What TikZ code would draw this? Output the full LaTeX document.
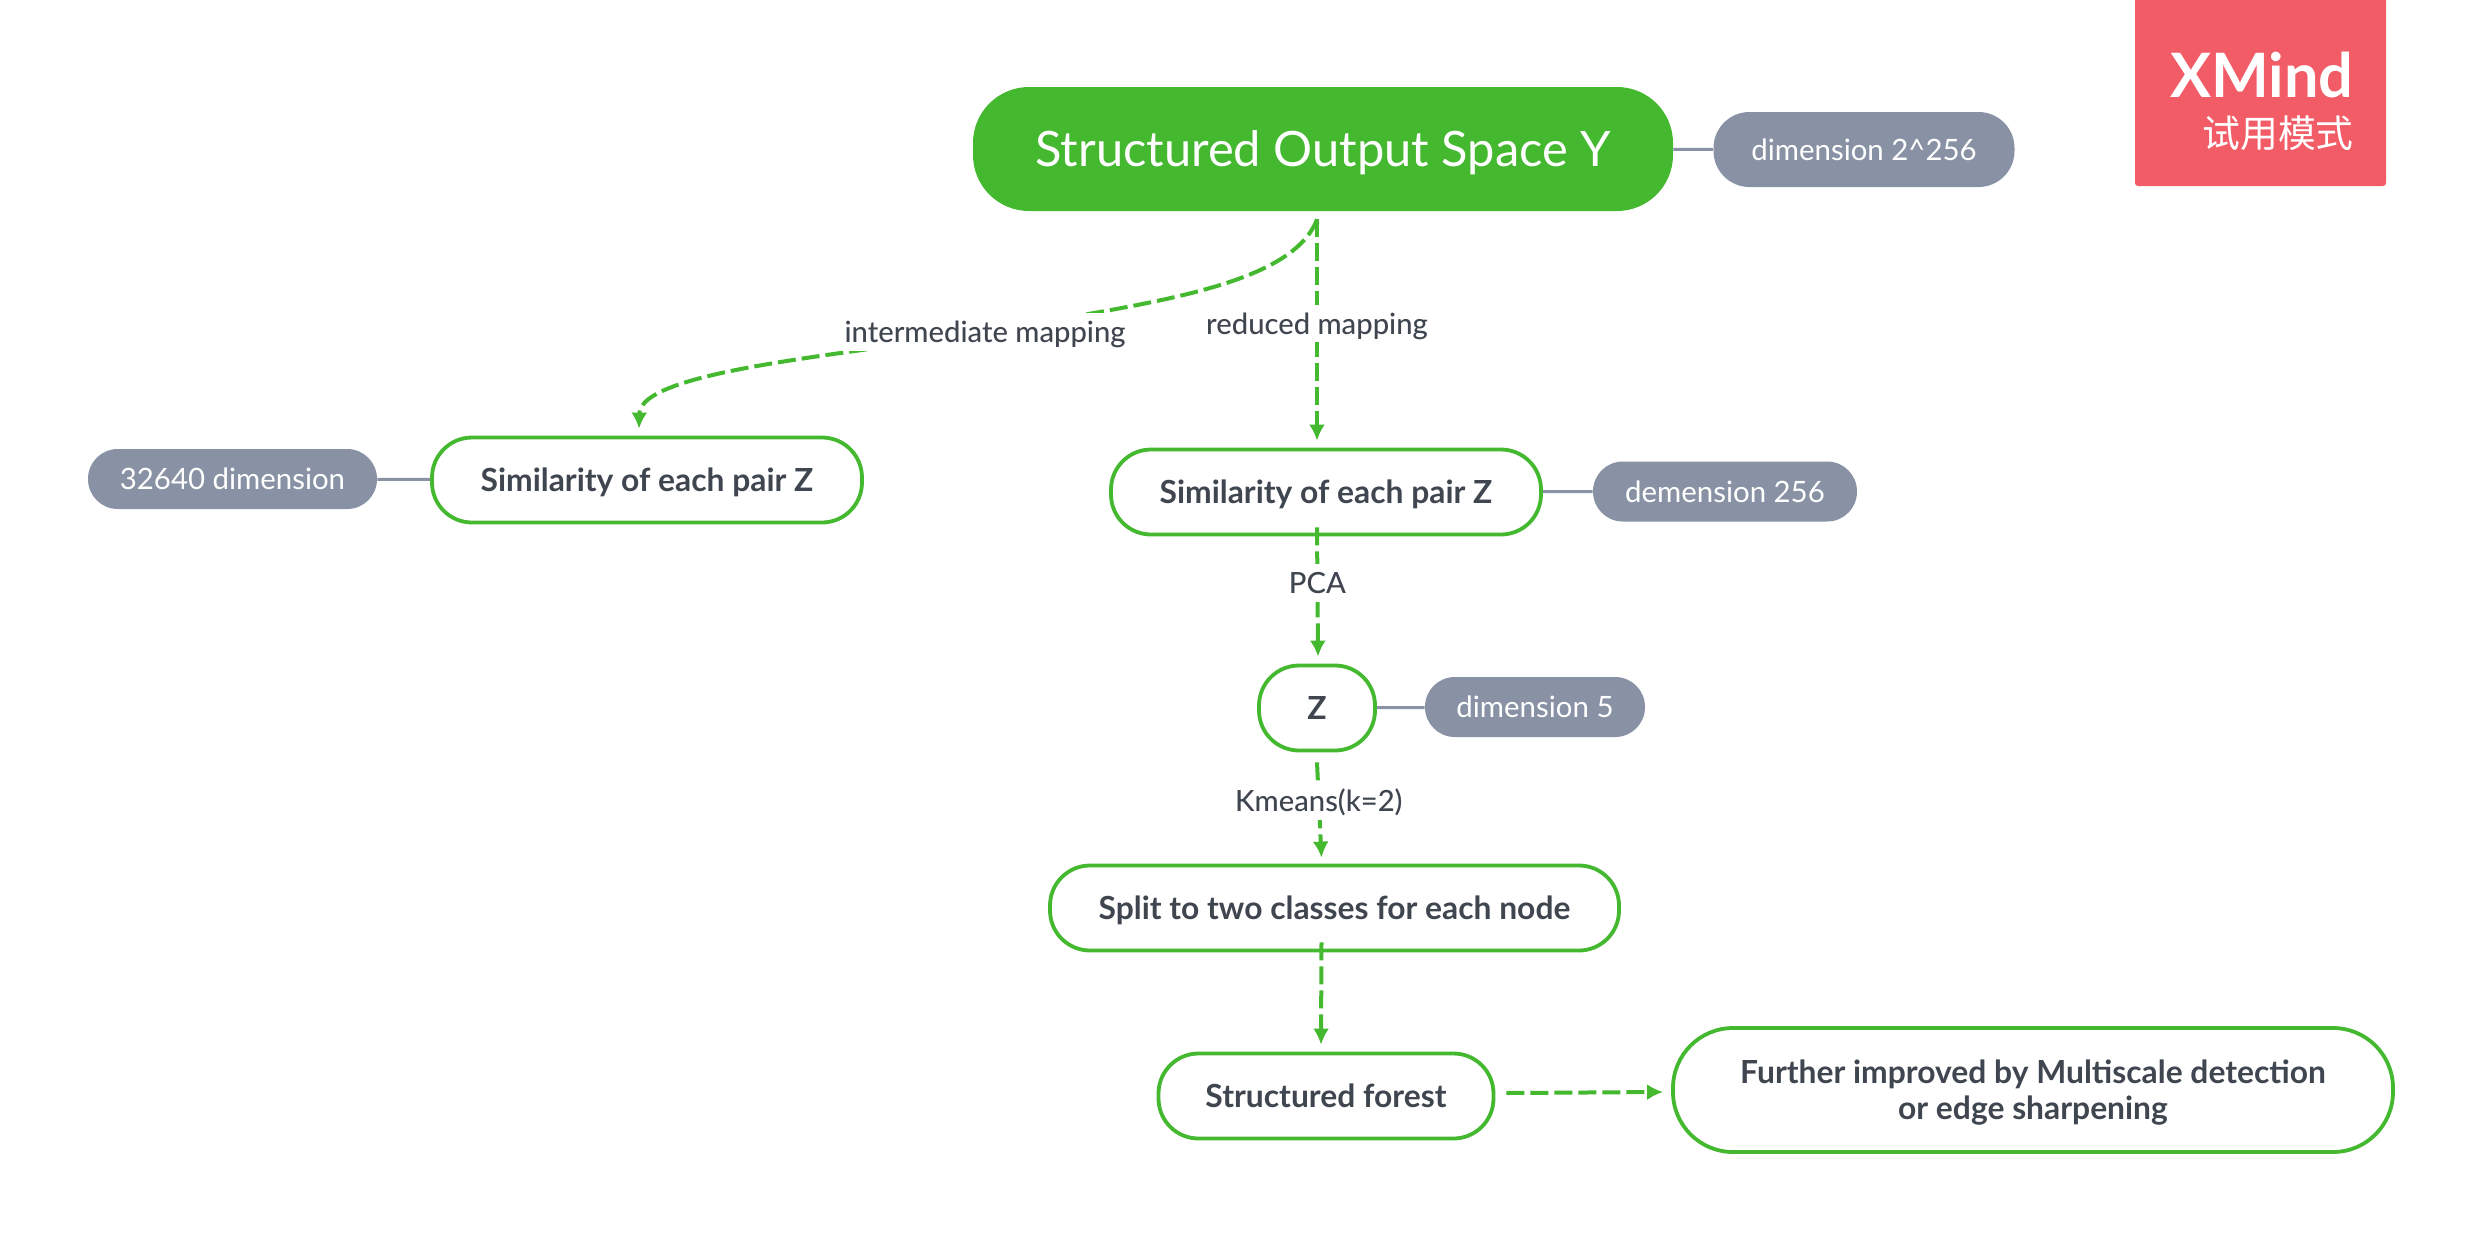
\documentclass[tikz,border=0pt]{standalone}
\usepackage{fontspec}
\setmainfont{Lato}
\newfontfamily\cjk{Noto Sans CJK SC}
\newfontfamily\medio{Lato Medium}
\usetikzlibrary{arrows.meta}
\definecolor{verde}{HTML}{44B82F}
\definecolor{grigio}{HTML}{8892A4}
\definecolor{testo}{HTML}{3F4650}
\definecolor{rosso}{HTML}{F25C66}
\tikzset{
  rootbox/.style={fill=verde, rounded corners=28pt, inner sep=0pt, minimum width=350pt, minimum height=62pt, text depth=0pt, text=white, font=\fontsize{24.4}{28}\selectfont},
  topicbox/.style={draw=verde, line width=1.9pt, fill=white, rounded corners=20pt, inner sep=0pt, minimum height=42.5pt, text depth=0.5pt, text=testo, font=\fontsize{15.9}{18}\selectfont\bfseries, align=center},
  tagbox/.style={fill=grigio, rounded corners=14.9pt, inner sep=0pt, minimum height=30pt, text depth=0pt, text=white, font=\fontsize{14.7}{18}\selectfont},
  tagline/.style={grigio, line width=1.5pt},
  mapping/.style={verde, line width=2pt, dash pattern=on 9pt off 3pt, -{Latex[length=8pt,width=8pt]}},
  maplabel/.style={fill=white, inner xsep=1.5pt, inner ysep=4pt, text depth=0pt, text=testo, font=\fontsize{14.6}{16}\medio},
}
\begin{document}
\begin{tikzpicture}[x=0.5pt, y=-0.5pt]
    \useasboundingbox (0,0) rectangle (2481,1239);
    % Filigrana
    \fill[rosso, rounded corners=1.5pt] (2135,-12) rectangle (2386,186);
    \node[anchor=base east, inner sep=0pt, text=white, font=\fontsize{30.6}{32}\selectfont\bfseries] (xmind) at (2354,97) {XMind};
    \node[anchor=base east, inner sep=0pt, text=white, font=\fontsize{18.9}{22}\cjk] (prova) at (2354,147) {试用模式};
    % Nodi
    \node[rootbox] (root) at (1323,149) {Structured Output Space Y};
    \node[tagbox, minimum width=150.5pt, minimum height=37.5pt, rounded corners=18pt] (dimroot) at (1864,149.5) {dimension 2\^{}256};
    \node[topicbox, minimum width=215pt] (simleft) at (647,480) {Similarity of each pair Z};
    \node[tagbox, minimum width=144.5pt] (dimleft) at (232.5,479) {32640 dimension};
    \node[topicbox, minimum width=215pt] (simcenter) at (1326,492) {Similarity of each pair Z};
    \node[tagbox, minimum width=132pt] (dimcenter) at (1725,491.5) {demension 256};
    \node[topicbox, minimum width=58pt] (zeta) at (1317,708) {Z};
    \node[tagbox, minimum width=110pt] (dimzeta) at (1535,707) {dimension 5};
    \node[topicbox, minimum width=284.5pt] (split) at (1334.5,908) {Split to two classes for each node};
    \node[topicbox, minimum width=167.5pt] (forest) at (1326,1096) {Structured forest};
    \node[topicbox, minimum width=360pt, minimum height=62pt, rounded corners=30pt] (further) at (2033,1090) {Further improved by Multiscale detection\\or edge sharpening};
    % Linee grigie
    \draw[tagline] (root) -- (dimroot);
    \draw[tagline] (simleft) -- (dimleft);
    \draw[tagline] (simcenter) -- (dimcenter);
    \draw[tagline] (zeta) -- (dimzeta);
    % Frecce
    \draw[mapping] ([xshift=-3pt,yshift=-4pt]root.south) .. controls (1290,290) and (1130,305) .. (985,332) node[maplabel] (lblinter) {intermediate mapping} .. controls (850,355) and (640,370) .. ([xshift=-4pt,yshift=3.5pt]simleft.north);
    \draw[mapping] ([xshift=-3pt,yshift=-4pt]root.south) -- node[maplabel, pos=0.47] (lblreduced) {reduced mapping} ([xshift=-4.5pt,yshift=3.5pt]simcenter.north);
    \draw[mapping] ([xshift=-4.5pt,yshift=4.5pt]simcenter.south) -- node[maplabel, pos=0.43] (lblpca) {PCA} ([xshift=0.5pt,yshift=3.5pt]zeta.north);
    \draw[mapping] ([yshift=-5pt]zeta.south) -- node[maplabel, pos=0.4] (lblkmeans) {Kmeans(k=2)} ([xshift=-6.5pt,yshift=3pt]split.north);
    \draw[mapping] ([xshift=-6.5pt,yshift=5pt]split.south) -- ([xshift=-2.5pt,yshift=3.5pt]forest.north);
    \draw[mapping] ([xshift=5.5pt,yshift=1.5pt]forest.east) -- ([xshift=-4pt,yshift=-1pt]further.west);
\end{tikzpicture}
\end{document}
